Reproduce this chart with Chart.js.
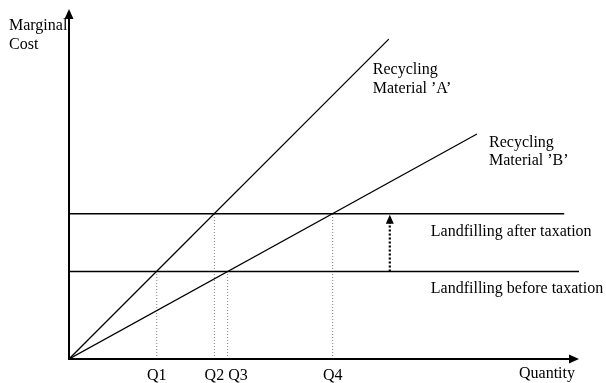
<!DOCTYPE html>
<html>
<head>
<meta charset="utf-8">
<script src="https://cdn.jsdelivr.net/npm/chart.js@4/dist/chart.umd.min.js"></script>
<style>
  html, body { margin: 0; padding: 0; background: #fff; }
  #wrap { width: 606px; height: 383px; }
</style>
</head>
<body>
<div id="wrap"><canvas id="c" width="606" height="383"></canvas></div>
<script>
// ---- data (abstract units: quantity 0..10, cost 0..10) ----
const quantityRange = [0, 10];
const costRange = [0, 10];
const materialA = [{x: 0, y: 0}, {x: 6.27, y: 9.14}];
const materialB = [{x: 0, y: 0}, {x: 8.0, y: 6.43}];
const landfillBefore = [{x: 0, y: 2.5}, {x: 10, y: 2.5}];
const landfillAfter = [{x: 0, y: 4.15}, {x: 9.71, y: 4.15}];
const qLabels = ['Q1', 'Q2', 'Q3', 'Q4'];
const qValues = [1.72, 2.85, 3.11, 5.17];
const qLevels = [2.5, 4.15, 2.5, 4.15];
const taxShift = {x: 6.29, from: 2.5, to: 4.15};
const axisTitles = {x: 'Quantity', y: ['Marginal', 'Cost']};
const curveTitles = {
  a: ['Recycling', 'Material \u2019A\u2019'],
  b: ['Recycling', 'Material \u2019B\u2019'],
  after: ['Landfilling after taxation'],
  before: ['Landfilling before taxation']
};

const FONT = '16px "Liberation Serif", "Times New Roman", serif';

const solid = (data) => ({
  data, showLine: true, borderColor: '#000', borderWidth: 1.3,
  pointRadius: 0, fill: false, tension: 0
});

const datasets = [
  solid(materialA),
  solid(materialB),
  solid(landfillBefore),
  solid(landfillAfter)
];
qValues.forEach((q, i) => {
  datasets.push({
    data: [{x: q, y: 0}, {x: q, y: qLevels[i]}],
    showLine: true, borderColor: '#808080', borderWidth: 1,
    borderDash: [1, 2], pointRadius: 0, fill: false
  });
});
// tax shift dotted arrow shaft (head drawn by plugin)
datasets.push({
  data: [{x: taxShift.x, y: taxShift.from}, {x: taxShift.x, y: taxShift.to - 0.2}],
  showLine: true, borderColor: '#000', borderWidth: 2.2,
  borderDash: [2, 2], pointRadius: 0, fill: false
});

const decor = {
  id: 'decor',
  afterDatasetsDraw(chart) {
    const ctx = chart.ctx;
    const xs = chart.scales.x, ys = chart.scales.y;
    const X = v => xs.getPixelForValue(v);
    const Y = v => ys.getPixelForValue(v);
    const ca = chart.chartArea;
    ctx.save();
    ctx.strokeStyle = '#000';
    ctx.fillStyle = '#000';
    ctx.setLineDash([]);
    // axes
    ctx.lineWidth = 2;
    ctx.beginPath();
    ctx.moveTo(X(0), ca.top + 6);
    ctx.lineTo(X(0), Y(0));
    ctx.lineTo(ca.right - 6, Y(0));
    ctx.stroke();
    const head = (tx, ty, dir, len, half) => {
      ctx.beginPath();
      if (dir === 'up') {
        ctx.moveTo(tx, ty); ctx.lineTo(tx - half, ty + len); ctx.lineTo(tx + half, ty + len);
      } else {
        ctx.moveTo(tx, ty); ctx.lineTo(tx - len, ty - half); ctx.lineTo(tx - len, ty + half);
      }
      ctx.closePath();
      ctx.fill();
    };
    head(X(0), ca.top, 'up', 10, 4.5);
    head(ca.right, Y(0), 'right', 10, 4.5);
    head(X(taxShift.x), Y(taxShift.to) + 1, 'up', 9, 4);

    // texts
    ctx.font = FONT;
    ctx.textBaseline = 'alphabetic';
    ctx.textAlign = 'left';
    const lh = 18.5;
    const block = (lines, px, py) => lines.forEach((t, i) => ctx.fillText(t, px, py + i * lh));
    block(axisTitles.y, X(0) - 60, ca.top + 21);
    ctx.fillText(axisTitles.x, ca.right - 60, Y(0) + 19);
    block(curveTitles.a, X(materialA[1].x) - 16, Y(materialA[1].y) + 35);
    block(curveTitles.b, X(materialB[1].x) + 12, Y(materialB[1].y) + 13);
    block(curveTitles.after, X(taxShift.x) + 41, Y(taxShift.to) + 22);
    block(curveTitles.before, X(taxShift.x) + 41, Y(taxShift.from) + 21);

    // Q tick labels, centred on their quantities, pushed right if they collide
    let prevRight = -Infinity;
    qLabels.forEach((t, i) => {
      const w = ctx.measureText(t).width;
      let left = X(qValues[i]) - w / 2;
      if (left < prevRight + 4) left = prevRight + 4;
      ctx.fillText(t, left, Y(0) + 21);
      prevRight = left + w;
    });
    ctx.restore();
  }
};

new Chart(document.getElementById('c'), {
  type: 'scatter',
  data: {datasets},
  options: {
    responsive: false,
    animation: false,
    devicePixelRatio: 1,
    layout: {padding: {left: 69, right: 27, top: 9, bottom: 24}},
    plugins: {legend: {display: false}, tooltip: {enabled: false}},
    scales: {
      x: {type: 'linear', min: quantityRange[0], max: quantityRange[1], display: false},
      y: {type: 'linear', min: costRange[0], max: costRange[1], display: false}
    }
  },
  plugins: [decor]
});
</script>
</body>
</html>
